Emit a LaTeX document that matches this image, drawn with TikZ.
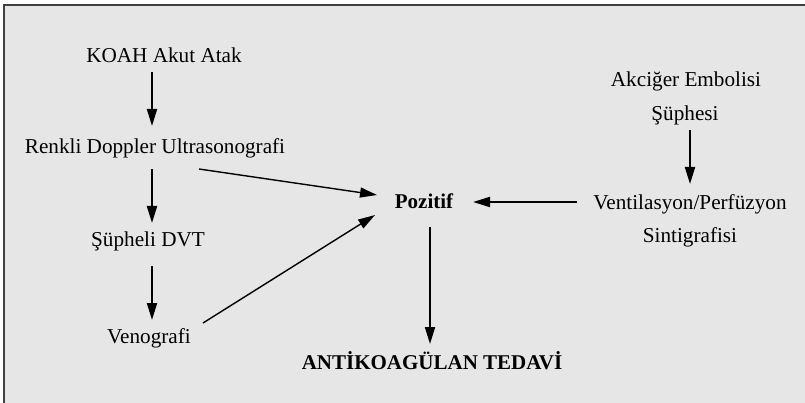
\documentclass[tikz,border=0pt]{standalone}
\usepackage{fontspec}
\setmainfont{Liberation Serif}
\usetikzlibrary{arrows.meta}
\definecolor{bgfill}{HTML}{E6E6E6}
\definecolor{framecol}{HTML}{404040}
\begin{document}
\begin{tikzpicture}[x=1pt,y=-1pt,
  lbl/.style={inner sep=0pt, anchor=base, font=\fontsize{21.2}{24}\selectfont},
  blbl/.style={lbl, font=\fontsize{21}{24}\selectfont\bfseries},
  thick arrow/.style={line width=2pt, -{Triangle[length=17pt,width=10pt]}},
  thin arrow/.style={line width=1.4pt, -{Triangle[length=17pt,width=10pt]}}]
\useasboundingbox (0,0) rectangle (805,403);
\clip (0,0) rectangle (805,403);
\fill[white] (0,0) rectangle (805,403);
\filldraw[fill=bgfill, draw=framecol, line width=1.5pt] (4,5) rectangle (815,415);
% nodes
\node[lbl] (koah) at (164,63) {KOAH Akut Atak};
\node[lbl] (doppler) at (155,154) {Renkli Doppler Ultrasonografi};
\node[lbl] (dvt) at (148,247) {Şüpheli DVT};
\node[lbl] (veno) at (149,343) {Venografi};
\node[blbl] (poz) at (424,209) {Pozitif};
\node[blbl] (anti) at (432,369) {ANTİKOAGÜLAN TEDAVİ};
\node[lbl] (akc) at (686,87) {Akciğer Embolisi};
\node[lbl] (sup) at (685,121) {Şüphesi};
\node[lbl] (vent) at (690,210) {Ventilasyon/Perfüzyon};
\node[lbl] (sint) at (690,243) {Sintigrafisi};
% connector end points
\coordinate (a1s) at (152,72);  \coordinate (a1e) at (152,126);
\coordinate (a2s) at (152,169); \coordinate (a2e) at (152,223);
\coordinate (a3s) at (152,266); \coordinate (a3e) at (152,320);
\coordinate (d1s) at (199,169); \coordinate (d1e) at (377,195);
\coordinate (d2s) at (203,323); \coordinate (d2e) at (375,215);
\coordinate (hs) at (577,202);  \coordinate (he) at (473,202);
\coordinate (ps) at (430,227);  \coordinate (pe) at (430,344);
\coordinate (ss) at (690,130);  \coordinate (se) at (690,184);
% connectors
\draw[thick arrow] (a1s) -- (a1e);
\draw[thick arrow] (a2s) -- (a2e);
\draw[thick arrow] (a3s) -- (a3e);
\draw[thin arrow] (d1s) -- (d1e);
\draw[thin arrow] (d2s) -- (d2e);
\draw[thick arrow] (hs) -- (he);
\draw[thick arrow] (ps) -- (pe);
\draw[thick arrow] (ss) -- (se);
\end{tikzpicture}
\end{document}
